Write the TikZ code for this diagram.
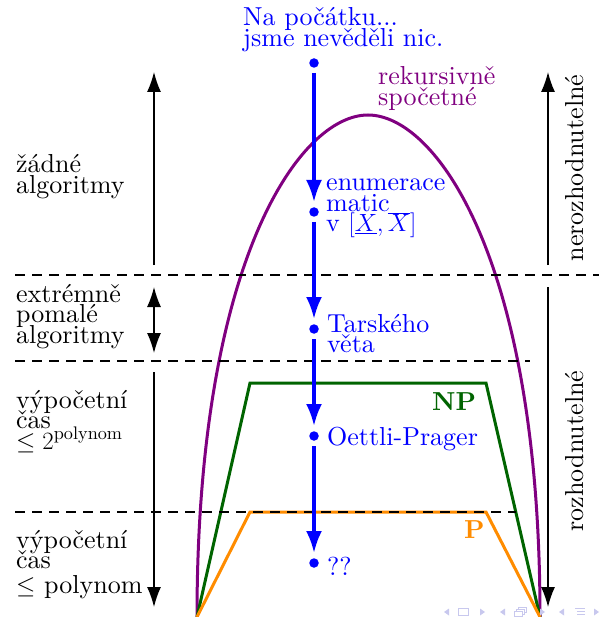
\documentclass[tikz,border=0pt]{standalone}
\usepackage{fontspec}
\setmainfont{lmroman10-regular}[Extension=.otf, BoldFont=lmroman10-bold, ItalicFont=lmroman10-italic]
\usetikzlibrary{arrows.meta}
\definecolor{blu}{RGB}{0,0,255}
\definecolor{pur}{RGB}{128,0,128}
\definecolor{grn}{RGB}{0,100,0}
\definecolor{orn}{RGB}{255,140,0}
\definecolor{navc}{RGB}{200,200,238}
\newcommand{\myfnt}{\fontsize{26}{20.5}\selectfont\lineskiplimit=-100pt\relax}
\begin{document}
\begin{tikzpicture}[x=1pt,y=-1pt,
  lbl/.style={anchor=base west, inner sep=0pt, align=left, font=\myfnt},
  rlbl/.style={anchor=base, inner sep=0pt, rotate=90, font=\myfnt},
  blk/.style={draw=black, line width=1.3pt, -{Latex[length=20pt,width=14pt]}},
  blk2/.style={draw=black, line width=1.3pt, {Latex[length=20pt,width=14pt]}-{Latex[length=20pt,width=14pt]}},
  dotn/.style={circle, fill=blu, inner sep=0pt, minimum size=9.5pt},
  barrow/.style={draw=blu, line width=3.3pt, -{Latex[length=22pt,width=16pt]}, shorten >=10pt, shorten <=10pt},
  sep/.style={draw=black, line width=1.8pt, dash pattern=on 10pt off 7pt},
  cls/.style={line width=3pt, line join=miter},
  navs/.style={fill=navc, draw=none}
]
\useasboundingbox (0,0) rectangle (599,617);

% complexity classes
\draw[cls, pur] (197,617) .. controls (197,260) and (300,115) .. (368,115)
                .. controls (436,115) and (540,260) .. (540,617);
\draw[cls, grn] (197,617) -- (250,383) -- (486,383) -- (540,617);
\draw[cls, orn] (197,617) -- (250,512) -- (486,512) -- (540,617);

% separators
\draw[sep] (15,275) -- (599,275);
\draw[sep] (15,361) -- (530,361);
\draw[sep] (15,512) -- (516,512);

% left arrows
\coordinate (la1) at (154,265);
\coordinate (la2) at (154,72);
\coordinate (lb1) at (154,287);
\coordinate (lb2) at (154,353);
\coordinate (lc1) at (154,372);
\coordinate (lc2) at (154,607);
\draw[blk] (la1) -- (la2);
\draw[blk2] (lb1) -- (lb2);
\draw[blk] (lc1) -- (lc2);

% right arrows
\coordinate (ra1) at (548,265);
\coordinate (ra2) at (548,72);
\coordinate (rb1) at (548,287);
\coordinate (rb2) at (548,607);
\draw[blk] (ra1) -- (ra2);
\draw[blk] (rb1) -- (rb2);
\node[rlbl] (nerozh) at (583,168) {nerozhodnutelné};
\node[rlbl] (rozh) at (583,451) {rozhodnutelné};

% left labels (anchor = baseline of last line)
\node[lbl] (l1) at (16,193.5) {žádné\\algoritmy};
\node[lbl] (l2) at (16,343) {extrémně\\pomalé\\algoritmy};
\node[lbl] (l3) at (16,449) {výpočetní\\čas\\$\le 2^{\mathrm{polynom}}$};
\node[lbl] (l4) at (16,593) {výpočetní\\čas\\[4pt]$\le$ polynom};

% class labels
\node[lbl, text=pur] (rek) at (378,105.5) {rekursivně\\spočetné};
\node[lbl, text=grn] (np) at (432,410) {\textbf{NP}};
\node[lbl, text=orn] (p) at (464,538) {\textbf{P}};

% blue path
\node[lbl, text=blu] (start) at (243,46.5) {Na počátku...\\jsme nevěděli nic.};
\node[dotn] (d0) at (314,63) {};
\node[dotn] (d1) at (314,212) {};
\node[dotn] (d2) at (314,329) {};
\node[dotn] (d3) at (314,436) {};
\node[dotn] (d4) at (314,563) {};
\draw[barrow] (d0.center) -- (d1.center);
\draw[barrow] (d1.center) -- (d2.center);
\draw[barrow] (d2.center) -- (d3.center);
\draw[barrow] (d3.center) -- (d4.center);
\node[lbl, text=blu] (t1) at (326,232) {enumerace\\matic\\v $[\underline{X},\overline{X}]$};
\node[lbl, text=blu] (t2) at (327,352.5) {Tarského\\věta};
\node[lbl, text=blu] (t3) at (327,445) {Oettli-Prager};
\node[lbl, text=blu] (t4) at (327,575) {??};

% navigation symbols
\fill[navs] (444,612) -- (449,608.5) -- (449,615.5) -- cycle;
\draw[navc, line width=1pt] (458,608.5) rectangle (468,615);
\fill[navs] (485,612) -- (480,608.5) -- (480,615.5) -- cycle;
\fill[navs] (500,612) -- (505,608.5) -- (505,615.5) -- cycle;
\draw[navc, line width=0.9pt, fill=white] (518,607) rectangle (526,612);
\draw[navc, line width=0.9pt, fill=white] (516,609) rectangle (524,614);
\draw[navc, line width=0.9pt, fill=white] (514,611) rectangle (522,616);
\fill[navs] (545,612) -- (540,608.5) -- (540,615.5) -- cycle;
\fill[navs] (559,612) -- (564,608.5) -- (564,615.5) -- cycle;
\draw[navc, line width=1pt] (575,608) -- (585,608) (577,611) -- (585,611) (577,614) -- (585,614) (575,617) -- (585,617);
\fill[navs] (599,612) -- (594,608.5) -- (594,615.5) -- cycle;
\end{tikzpicture}
\end{document}
